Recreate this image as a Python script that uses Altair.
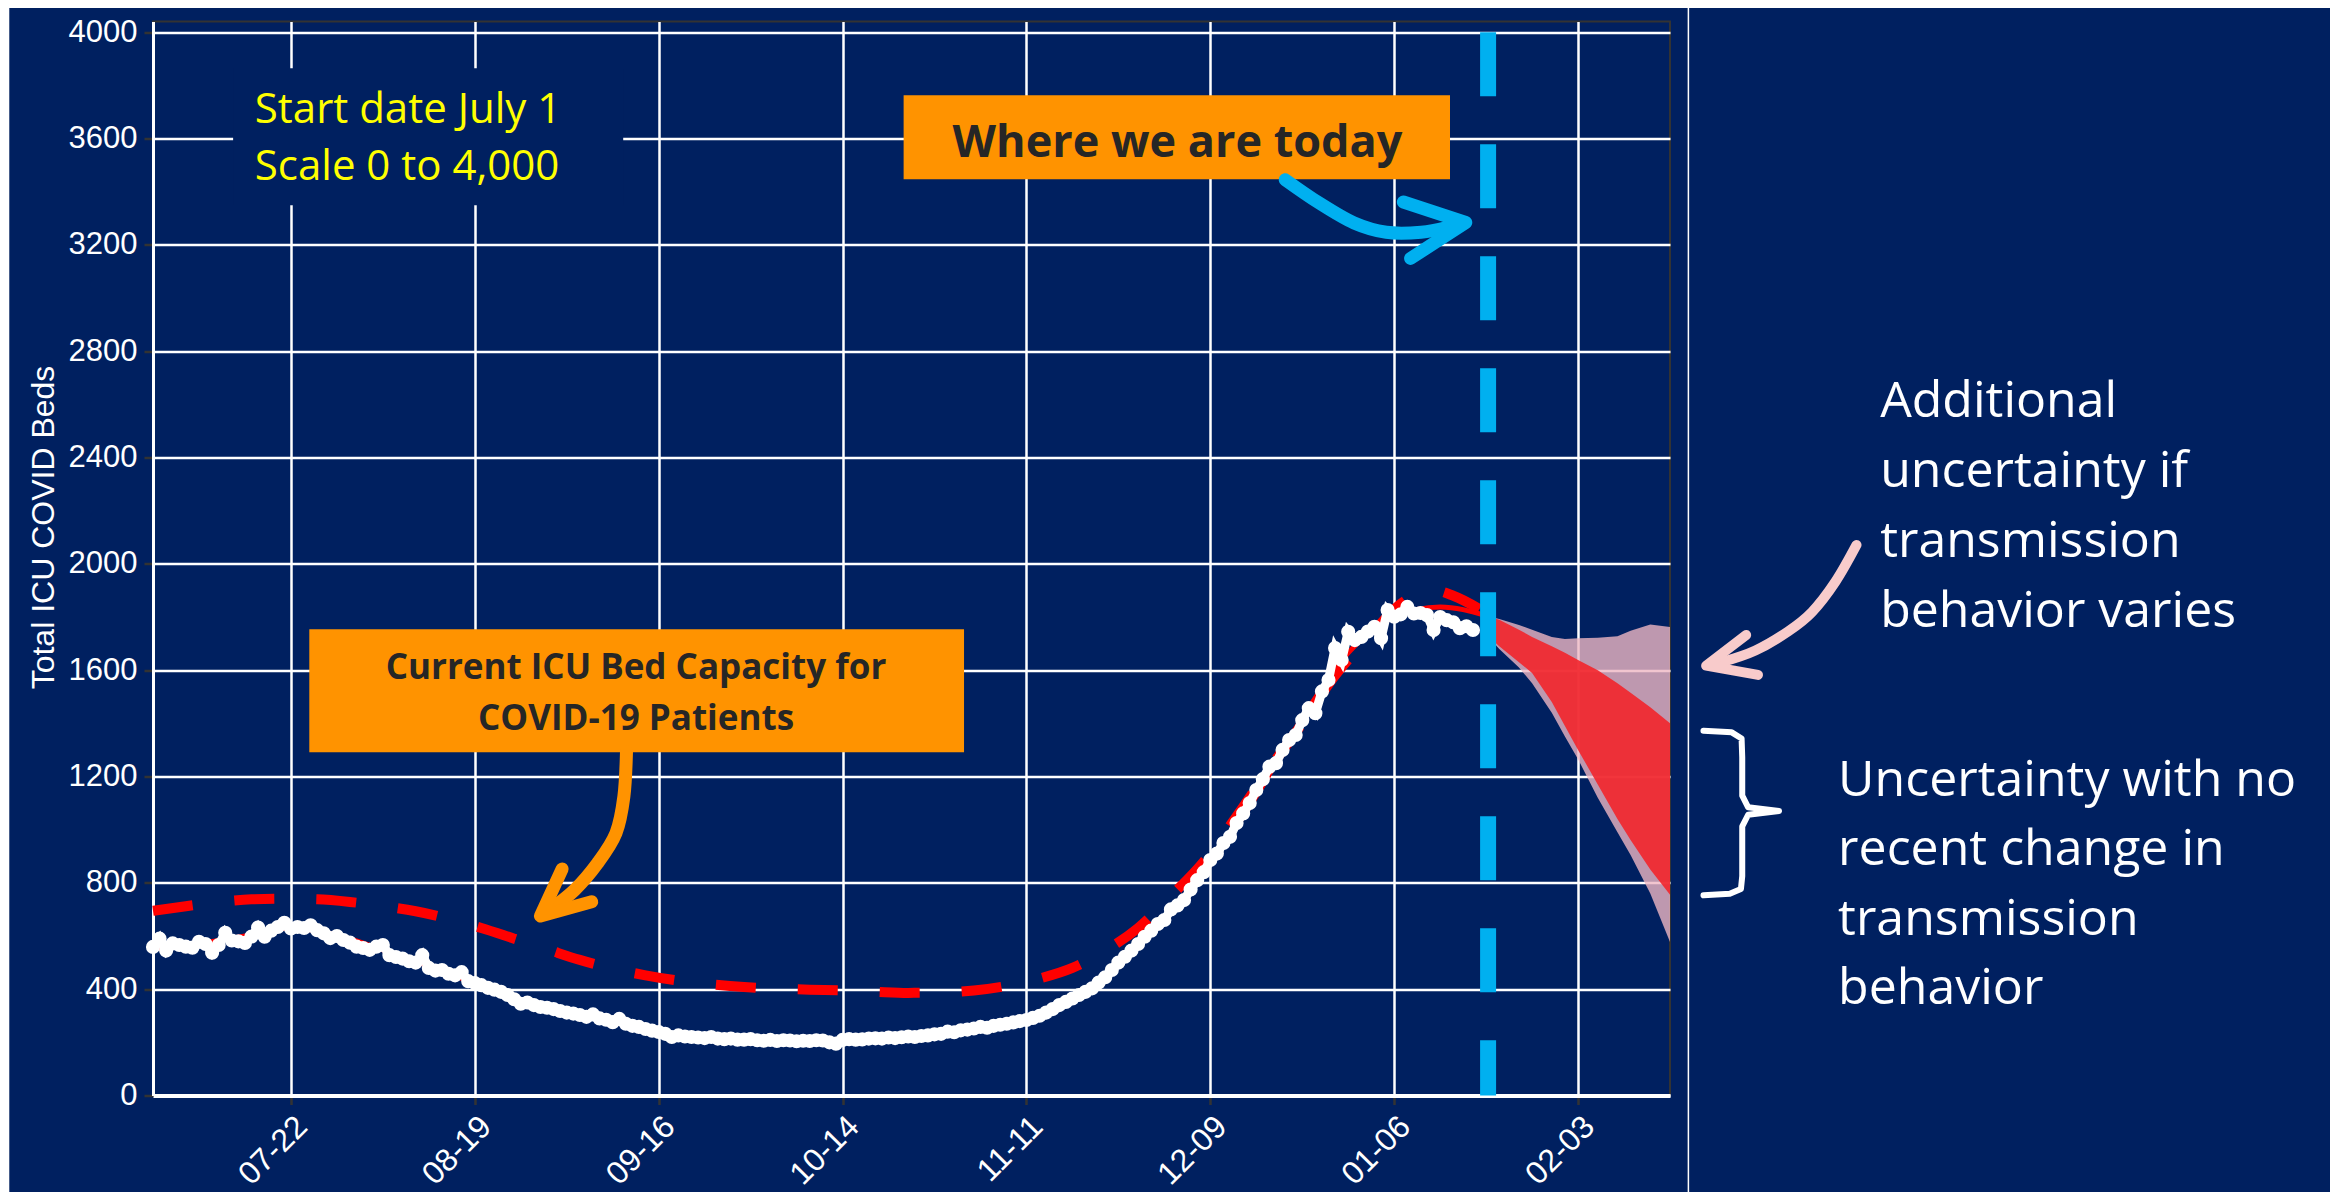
import altair as alt
import pandas as pd

START = pd.Timestamp("2020-07-01")

# ---------------- data ----------------
# daily ICU COVID beds in use, starting 2020-07-01
observed_icu = [
    559, 590, 545, 572, 566, 560, 556, 578, 570, 537,
    566, 612, 583, 580, 574, 598, 632, 597, 620, 634,
    650, 628, 634, 630, 640, 622, 610, 592, 600, 585,
    575, 560, 555, 548, 560, 566, 528, 521, 515, 505,
    500, 528, 480, 470, 472, 458, 452, 464, 430, 423,
    415, 405, 398, 390, 378, 362, 345, 350, 340, 333,
    330, 325, 318, 312, 308, 303, 296, 305, 290, 285,
    276, 288, 270, 262, 258, 250, 244, 239, 232, 220,
    226, 222, 220, 218, 216, 220, 214, 212, 214, 210,
    210, 212, 208, 206, 209, 205, 208, 207, 204, 206,
    205, 208, 207, 200, 195, 209, 212, 210, 211, 214,
    215, 214, 218, 216, 219, 222, 220, 224, 226, 230,
    232, 240, 238, 245, 248, 252, 258, 255, 262, 266,
    270, 275, 280, 284, 292, 300, 312, 325, 340, 352,
    365, 378, 390, 403, 425, 445, 472, 500, 522, 545,
    570, 597, 620, 645, 660, 700, 715, 735, 775, 810,
    840, 886, 910, 950, 973, 1025, 1061, 1100, 1149, 1190,
    1237, 1250, 1300, 1337, 1356, 1412, 1457, 1438, 1520, 1563,
    1683, 1638, 1744, 1713, 1725, 1745, 1763, 1720, 1826, 1801,
    1810, 1838, 1813, 1815, 1807, 1751, 1800, 1788, 1780, 1758,
    1765, 1751,
]

# model fit (days since July 1)
fit_day = [0, 7, 14, 21, 28, 35, 42, 49, 56, 63, 70, 77, 84, 91, 98, 105,
           112, 119, 126, 133, 140, 147, 154, 161, 168, 175, 182, 189, 196, 203]
fit_icu = [552, 572, 600, 630, 603, 548, 487, 422, 352, 312, 276, 240, 219, 209,
           206, 208, 214, 227, 254, 286, 362, 495, 665, 872, 1125, 1420, 1665,
           1800, 1838, 1805]

# ICU bed capacity for COVID-19 patients (days since July 1)
capacity_day = [0, 5, 10, 15, 20, 25, 30, 35, 40, 45, 50, 55, 60, 65, 70, 75, 80,
                85, 90, 95, 100, 105, 110, 115, 120, 125, 130, 135, 140, 145, 150,
                155, 160, 165, 170, 175, 180, 185, 190, 195, 198, 202]
capacity_beds = [695, 712, 728, 738, 740, 738, 728, 712, 693, 665, 630, 590, 550,
                 510, 478, 452, 432, 418, 408, 402, 398, 395, 390, 386, 388, 395,
                 412, 440, 480, 545, 630, 750, 880, 1050, 1230, 1400, 1580, 1720,
                 1850, 1900, 1880, 1830]

# forecast bands (days since July 1)
band_day = [203, 205, 208, 210, 213, 215, 217, 220, 223, 225, 228, 231]
outer_high = [1805, 1792, 1770, 1752, 1725, 1717, 1720, 1722, 1728, 1748, 1772, 1762]
outer_low = [1735, 1680, 1610, 1551, 1440, 1350, 1265, 1120, 990, 905, 760, 577]
inner_high = [1805, 1790, 1752, 1725, 1690, 1665, 1638, 1600, 1551, 1515, 1460, 1400]
inner_low = [1735, 1690, 1630, 1589, 1480, 1390, 1300, 1170, 1040, 961, 850, 755]

today_day = 203.3

tick_dates = ["2020-07-22", "2020-08-19", "2020-09-16", "2020-10-14",
              "2020-11-11", "2020-12-09", "2021-01-06", "2021-02-03"]
y_ticks = [0, 400, 800, 1200, 1600, 2000, 2400, 2800, 3200, 3600, 4000]

start_text = ["Start date July 1", "Scale 0 to 4,000"]
today_text = "Where we are today"
capacity_text = ["Current ICU Bed Capacity for", "COVID-19 Patients"]
extra_text = ["Additional", "uncertainty if", "transmission", "behavior varies"]
base_text = ["Uncertainty with no", "recent change in", "transmission", "behavior"]

NAVY = "#002060"
ORANGE = "#FF9300"
BLUE = "#00B0F0"


def ts(day):
    return (START + pd.Timedelta(days=float(day))).strftime("%Y-%m-%dT%H:%M:%S")


def dt(s):
    y, m, d = (int(p) for p in s.split("-"))
    return alt.DateTime(year=y, month=m, date=d)


X = alt.X("date:T",
          scale=alt.Scale(domain=[dt("2020-07-01"), dt("2021-02-17")], nice=False),
          axis=alt.Axis(values=[dt(s) for s in tick_dates], format="%m-%d"),
          title=None)
Y = alt.Y("value:Q",
          scale=alt.Scale(domain=[0, 4040], nice=False, zero=False),
          axis=alt.Axis(values=y_ticks, format="d"),
          title="Total ICU COVID Beds")
X2 = alt.X2("date2")
Y2 = alt.Y2("value2")


def pts(pairs):
    return pd.DataFrame({"date": [ts(d) for d, _ in pairs],
                         "value": [v for _, v in pairs],
                         "i": list(range(len(pairs)))})


def box(d1, d2, v1, v2):
    return pd.DataFrame({"date": [ts(d1)], "date2": [ts(d2)],
                         "value": [v1], "value2": [v2]})


def texts(day, values, lines):
    return pd.DataFrame({"date": [ts(day)] * len(lines), "value": values, "text": lines})


# ---------------- layers ----------------
frame = alt.Chart(box(-22.0, 233.8, 4096, -600)).mark_rect(
    fillOpacity=0, stroke="white", strokeWidth=1.5).encode(x=X, x2=X2, y=Y, y2=Y2)

start_box = alt.Chart(box(12.2, 71.6, 3864, 3349)).mark_rect(color=NAVY).encode(
    x=X, x2=X2, y=Y, y2=Y2)

outer_df = pd.DataFrame({"date": [ts(d) for d in band_day], "value": outer_low, "value2": outer_high})
inner_df = pd.DataFrame({"date": [ts(d) for d in band_day], "value": inner_low, "value2": inner_high})
outer_band = alt.Chart(outer_df).mark_area(color="#EDB6C3", opacity=0.8).encode(x=X, y=Y, y2=Y2)
inner_band = alt.Chart(inner_df).mark_area(color="#F2252B", opacity=0.9).encode(x=X, y=Y, y2=Y2)

fit_df = pd.DataFrame({"date": [ts(d) for d in fit_day], "value": fit_icu})
fit_line = alt.Chart(fit_df).mark_line(color="#FF0000", strokeWidth=5,
                                       interpolate="monotone").encode(x=X, y=Y)

cap_df = pd.DataFrame({"date": [ts(d) for d in capacity_day], "value": capacity_beds})
cap_line = alt.Chart(cap_df).mark_line(color="#FF0000", strokeWidth=10, strokeDash=[40, 42],
                                       interpolate="monotone").encode(x=X, y=Y)

obs_df = pd.DataFrame({"date": [ts(i) for i in range(len(observed_icu))], "value": observed_icu})
obs_line = alt.Chart(obs_df).mark_line(color="white", strokeWidth=9).encode(x=X, y=Y)
obs_pts = alt.Chart(obs_df).mark_circle(color="white", size=200, opacity=1).encode(x=X, y=Y)

today_rule = alt.Chart(pd.DataFrame({"date": [ts(today_day)], "value": [4000], "value2": [0]})).mark_rule(
    color=BLUE, strokeWidth=16, strokeDash=[64, 48]).encode(x=X, y=Y, y2=Y2)

today_box = alt.Chart(box(114.3, 197.5, 3763, 3447)).mark_rect(color=ORANGE).encode(
    x=X, x2=X2, y=Y, y2=Y2)
cap_box = alt.Chart(box(23.8, 123.5, 1754, 1291)).mark_rect(color=ORANGE).encode(
    x=X, x2=X2, y=Y, y2=Y2)

start_lbl = alt.Chart(texts(15.5, [3657, 3443], start_text)).mark_text(
    align="left", baseline="alphabetic", font="Open Sans", fontSize=42, color="#FFFF00").encode(
    x=X, y=Y, text="text:N")
today_lbl = alt.Chart(texts(156.0, [3532], [today_text])).mark_text(
    align="center", baseline="alphabetic", font="Open Sans", fontWeight="bold", fontSize=45,
    color="#262626").encode(x=X, y=Y, text="text:N")
cap_lbl = alt.Chart(texts(73.55, [1565, 1374], capacity_text)).mark_text(
    align="center", baseline="alphabetic", font="Open Sans", fontWeight="bold", fontSize=35,
    color="#262626").encode(x=X, y=Y, text="text:N")
extra_lbl = alt.Chart(texts(263.0, [2552, 2289, 2025, 1762], extra_text)).mark_text(
    align="left", baseline="alphabetic", font="Open Sans", fontSize=50, color="white").encode(
    x=X, y=Y, text="text:N")
base_lbl = alt.Chart(texts(256.6, [1126, 867, 604, 344], base_text)).mark_text(
    align="left", baseline="alphabetic", font="Open Sans", fontSize=50, color="white").encode(
    x=X, y=Y, text="text:N")


def arrow(shaft, head, color, width):
    s = alt.Chart(pts(shaft)).mark_line(color=color, strokeWidth=width, strokeCap="round",
                                       interpolate="cardinal").encode(x=X, y=Y, order="i:Q")
    h = alt.Chart(pts(head)).mark_line(color=color, strokeWidth=width, strokeCap="round",
                                      strokeJoin="round").encode(x=X, y=Y, order="i:Q")
    return [s, h]


blue_arrow = arrow([(172.4, 3445), (177.6, 3357), (182.9, 3282), (187.8, 3247),
                    (193.1, 3247), (197.0, 3265)],
                   [(190.4, 3361), (199.9, 3284), (191.5, 3149)], BLUE, 13)
orange_arrow = arrow([(72.1, 1293), (71.7, 1124), (70.5, 987), (67.7, 874),
                      (64.2, 773), (60.5, 700)],
                     [(62.3, 852), (59.0, 675), (66.8, 729)], ORANGE, 13)
pink_arrow = arrow([(259.4, 2071), (256.2, 1933), (252.6, 1818), (249.0, 1746),
                    (244.0, 1674), (239.0, 1631)],
                   [(242.6, 1732), (236.5, 1617), (244.4, 1582)], "#F8CBCB", 10)

bracket = alt.Chart(pts([(236.1, 1372), (240.4, 1366), (241.9, 1343), (242.0, 1271),
                         (242.0, 1128), (242.9, 1084), (247.6, 1070), (242.9, 1056),
                         (242.0, 1012), (242.0, 825), (241.8, 777), (240.1, 759),
                         (236.1, 753)])).mark_line(
    color="white", strokeWidth=6, strokeJoin="round", strokeCap="round").encode(
    x=X, y=Y, order="i:Q")

layers = [frame, start_box, outer_band, inner_band, fit_line, cap_line, obs_line, obs_pts,
          today_rule, today_box, cap_box, start_lbl, today_lbl, cap_lbl,
          *blue_arrow, *orange_arrow, *pink_arrow, bracket, extra_lbl, base_lbl]

chart = alt.layer(*layers).properties(
    width=1517, height=1074, background=NAVY,
    padding={"left": 145, "top": 13.5, "right": 660, "bottom": 96},
    autosize=alt.AutoSizeParams(type="none"),
).configure_view(
    stroke="#333333", strokeWidth=2
).configure_axis(
    gridColor="white", gridWidth=2.5, gridOpacity=1,
    labelColor="white", labelFont="Liberation Sans",
    tickColor="#333333", tickWidth=2.5, tickSize=9,
    domainColor="white", titleColor="white", titleFont="Liberation Sans",
    titleFontWeight="normal", labelOverlap=False, labelFlush=False,
).configure_axisX(
    labelAngle=-45, labelFontSize=32, domainWidth=4, labelPadding=6,
).configure_axisY(
    labelFontSize=31, domainWidth=3, labelPadding=7, titleFontSize=32,
    titleAngle=-90, titleX=-100, titleY=505.5, titleBaseline="alphabetic", titleAlign="center",
)

chart.save("out.html", embed_options={"renderer": "svg", "actions": False})
